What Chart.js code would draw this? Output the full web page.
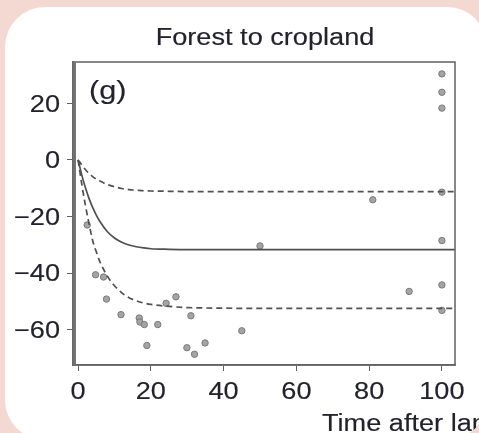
<!DOCTYPE html>
<html>
<head>
<meta charset="utf-8">
<script src="https://cdn.jsdelivr.net/npm/chart.js@4.4.1/dist/chart.umd.min.js"></script>
<style>
  html, body { margin:0; padding:0; width:479px; height:433px; overflow:hidden; background:#f3d9d1; }
  #card { position:absolute; left:5px; top:7px; width:482px; height:433px; border-radius:40px; background:#ffffff; overflow:hidden; }
  #wrap { position:absolute; left:-5px; top:-7px; width:479px; height:433px; }
</style>
</head>
<body>
<div id="card"><div id="wrap"><canvas id="c" width="479" height="433"></canvas></div></div>
<script>
// ---- data ----
const chartTitle = "Forest to cropland";
const panelLabel = "(g)";
const xAxisTitle = "Time after land-use change (years)";
const xTicks = [0, 20, 40, 60, 80, 100];
const yTicks = [-60, -40, -20, 0, 20];

const obsT = [2.5, 4.8, 7, 7.8, 11.8, 16.8, 17, 18.2, 21.9, 18.9, 24.2, 26.9, 31, 29.9, 32, 34.9, 45, 50, 81, 91, 100, 100, 100, 100, 100, 100, 100];
const obsV = [-23, -40.6, -41.4, -49.2, -54.7, -55.9, -57.3, -58.2, -58.2, -65.6, -50.7, -48.4, -55.1, -66.4, -68.7, -64.7, -60.4, -30.4, -14.1, -46.5, 30.4, 23.9, 18.3, -11.4, -28.5, -44.2, -53.2];

const curveT = [0, 1, 2, 3, 4, 5, 6, 8, 10, 12, 14, 16, 18, 20, 25, 30, 40, 50, 60, 80, 100, 104];
const meanV  = [0, -5.3, -9.8, -13.6, -16.8, -19.5, -21.8, -25.3, -27.6, -29.1, -30.1, -30.7, -31.1, -31.4, -31.6, -31.7, -31.7, -31.7, -31.7, -31.7, -31.7, -31.7];
const upperV = [0, -1.8, -3.4, -4.8, -5.9, -6.8, -7.5, -8.7, -9.5, -10.1, -10.5, -10.7, -10.9, -11.0, -11.1, -11.2, -11.2, -11.2, -11.2, -11.2, -11.2, -11.2];
const lowerV = [0, -8.5, -16, -22.5, -28.5, -32.5, -36, -41, -44.5, -47, -48.7, -49.8, -50.6, -51.1, -51.8, -52.2, -52.4, -52.5, -52.5, -52.5, -52.5, -52.5];

const xMin = -1.4, xMax = 103.6, yMin = -72.5, yMax = 34.6;

function pts(xs, ys) { return xs.map((x, i) => ({ x: x, y: ys[i] })); }

const FONT = "'Liberation Sans', Arial, sans-serif";
const ink = "#22222c";
const axisCol = "#606060";
const SX = 1.18; // the reference text is slightly stretched horizontally

function stretchedText(ctx, text, x, y, size, align) {
  ctx.save();
  ctx.font = size + "px " + FONT;
  ctx.textAlign = align;
  ctx.textBaseline = "alphabetic";
  ctx.translate(x, y);
  ctx.scale(SX, 1);
  ctx.fillText(text, 0, 0);
  ctx.lineWidth = 0.15;
  ctx.strokeStyle = ink;
  ctx.strokeText(text, 0, 0);
  ctx.restore();
}

const fmt = v => (v < 0 ? '\u2212' + Math.abs(v) : String(v));

const decor = {
  id: 'decor',
  afterDraw(chart) {
    const { ctx, chartArea: a, scales } = chart;
    ctx.save();
    // box
    ctx.strokeStyle = axisCol;
    ctx.lineWidth = 1.5;
    ctx.strokeRect(a.left, a.top, a.right - a.left, a.bottom - a.top);
    ctx.strokeStyle = '#707070';
    ctx.lineWidth = 3.5;
    ctx.beginPath(); ctx.moveTo(a.left + 1.2, a.top); ctx.lineTo(a.left + 1.2, a.bottom); ctx.stroke();
    ctx.fillStyle = ink;
    // tick labels placed through the chart's own scales
    xTicks.forEach(v => stretchedText(ctx, fmt(v), scales.x.getPixelForValue(v), 398.5, 23, "center"));
    yTicks.forEach(v => stretchedText(ctx, fmt(v), 60, scales.y.getPixelForValue(v) + 8.2, 23, "right"));
    // title, panel label, x-axis title (cut off by the frame as in the reference)
    stretchedText(ctx, chartTitle, (a.left + a.right) / 2 + 1, 45, 23, "center");
    stretchedText(ctx, panelLabel, 89, 99, 26, "left");
    stretchedText(ctx, xAxisTitle, 322, 431, 23, "left");
    ctx.restore();
  }
};

new Chart(document.getElementById('c'), {
  type: 'scatter',
  data: {
    datasets: [
      { type: 'line', data: pts(curveT, meanV), borderColor: '#505050', borderWidth: 1.7, pointRadius: 0, cubicInterpolationMode: 'monotone', fill: false },
      { type: 'line', data: pts(curveT, upperV), borderColor: '#505050', borderWidth: 1.7, borderDash: [6, 4], pointRadius: 0, cubicInterpolationMode: 'monotone', fill: false },
      { type: 'line', data: pts(curveT, lowerV), borderColor: '#505050', borderWidth: 1.7, borderDash: [6, 4], pointRadius: 0, cubicInterpolationMode: 'monotone', fill: false },
      { data: pts(obsT, obsV), pointRadius: 3.2, pointBackgroundColor: '#a4a4a4', pointBorderColor: '#7a7a7a', pointBorderWidth: 1 }
    ]
  },
  options: {
    responsive: false,
    animation: false,
    clip: true,
    layout: { padding: { top: 62, left: 0, right: 24, bottom: 0 } },
    plugins: { legend: { display: false }, tooltip: { enabled: false }, title: { display: false } },
    scales: {
      x: {
        type: 'linear', min: xMin, max: xMax,
        afterBuildTicks: s => { s.ticks = xTicks.map(v => ({ value: v })); },
        afterFit: s => { s.height = 68; },
        grid: { drawOnChartArea: false, drawTicks: true, tickLength: 6, tickColor: axisCol },
        border: { display: true, color: axisCol, width: 1.5 },
        ticks: { display: false }
      },
      y: {
        type: 'linear', min: yMin, max: yMax,
        afterBuildTicks: s => { s.ticks = yTicks.map(v => ({ value: v })); },
        afterFit: s => { s.width = 73; },
        grid: { drawOnChartArea: false, drawTicks: true, tickLength: 6, tickColor: axisCol },
        border: { display: true, color: axisCol, width: 1.5 },
        ticks: { display: false }
      }
    }
  },
  plugins: [decor]
});
</script>
</body>
</html>
